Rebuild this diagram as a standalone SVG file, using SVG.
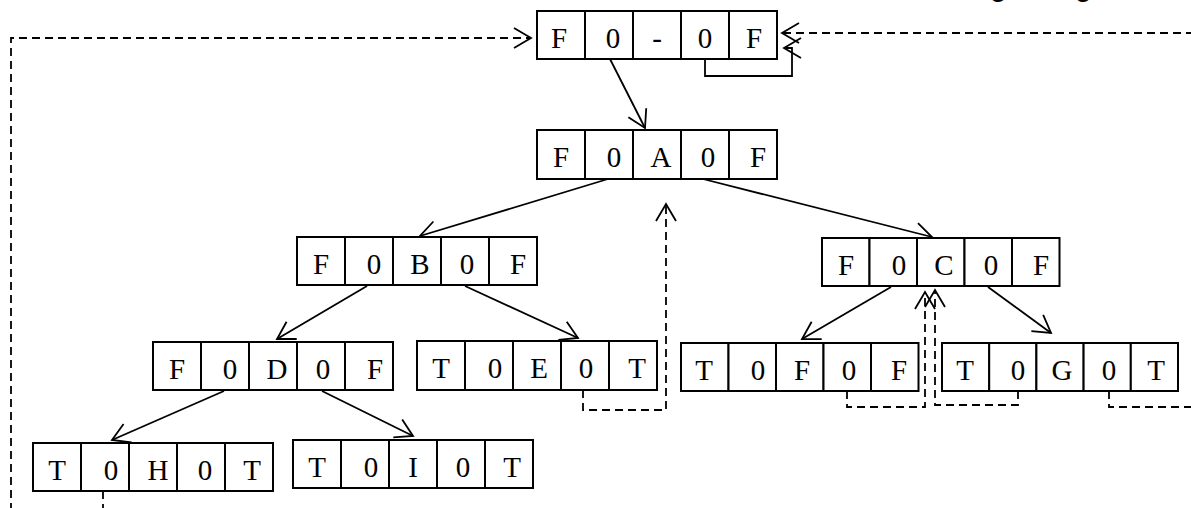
<svg xmlns="http://www.w3.org/2000/svg" width="1191" height="508" viewBox="0 0 1191 508">
<style>
.c{fill:#fff;stroke:#000;stroke-width:2}
.t{font-family:"Liberation Serif","Times New Roman",serif;font-size:29px;text-anchor:middle;fill:#000}
.g{font-family:"Liberation Sans",Arial,sans-serif;font-size:30px;fill:#000}
.s{fill:none;stroke:#000;stroke-width:1.8}
.d{fill:none;stroke:#000;stroke-width:1.8;stroke-dasharray:8 5}
</style>
<defs>
<marker id="ah" viewBox="-20 -12 24 24" refX="0" refY="0" markerWidth="24" markerHeight="24" markerUnits="userSpaceOnUse" orient="auto" overflow="visible">
<path d="M-17,-10 L0,0 L-17,10" fill="none" stroke="#000" stroke-width="1.8" stroke-dasharray="none"/>
</marker>
</defs>
<rect width="1191" height="508" fill="#fff"/>
<text class="g" x="990" y="-4">g</text>
<text class="g" x="1075" y="-4">g</text>

<g id="connectors">
<line class="s" x1="610" y1="59" x2="645" y2="128" marker-end="url(#ah)"/>
<line class="s" x1="608" y1="179" x2="420" y2="236" marker-end="url(#ah)"/>
<line class="s" x1="703" y1="179" x2="932" y2="237" marker-end="url(#ah)"/>
<line class="s" x1="367" y1="286" x2="277" y2="339" marker-end="url(#ah)"/>
<line class="s" x1="465" y1="286" x2="578" y2="338" marker-end="url(#ah)"/>
<line class="s" x1="891" y1="287" x2="802" y2="339" marker-end="url(#ah)"/>
<line class="s" x1="988" y1="287" x2="1051" y2="333" marker-end="url(#ah)"/>
<line class="s" x1="224" y1="391" x2="112" y2="440" marker-end="url(#ah)"/>
<line class="s" x1="322" y1="391" x2="413" y2="436" marker-end="url(#ah)"/>
<path class="s" d="M705 59 V76 H792 V48 L784 48" marker-end="url(#ah)"/>
<path class="d" d="M103 491 V520 H11 V38 H531" marker-end="url(#ah)"/>
<path class="d" d="M1109 391 V407 H1210 V33 H782" marker-end="url(#ah)"/>
<path class="d" d="M583 390 V410 H666 V204" marker-end="url(#ah)"/>
<path class="d" d="M847 391 V407 H925 V292" marker-end="url(#ah)"/>
<path class="d" d="M1018 391 V405 H935 V290" marker-end="url(#ah)"/>
</g>

<g id="node-root" transform="translate(537,11)">
<rect class="c" x="0" y="0" width="48" height="48"/><rect class="c" x="48" y="0" width="48" height="48"/><rect class="c" x="96" y="0" width="48" height="48"/><rect class="c" x="144" y="0" width="48" height="48"/><rect class="c" x="192" y="0" width="48" height="48"/>
<text class="t" x="22" y="37">F</text><text class="t" x="76" y="37">0</text><text class="t" x="120" y="37">-</text><text class="t" x="168" y="37">0</text><text class="t" x="217" y="37">F</text>
</g>

<g id="node-A" transform="translate(537,130)">
<rect class="c" x="0" y="0" width="48" height="49"/><rect class="c" x="48" y="0" width="48" height="49"/><rect class="c" x="96" y="0" width="48" height="49"/><rect class="c" x="144" y="0" width="48" height="49"/><rect class="c" x="192" y="0" width="48" height="49"/>
<text class="t" x="24" y="37">F</text><text class="t" x="77" y="37">0</text><text class="t" x="124" y="37">A</text><text class="t" x="171" y="37">0</text><text class="t" x="221" y="37">F</text>
</g>

<g id="node-B" transform="translate(297,237)">
<rect class="c" x="0" y="0" width="48" height="48"/><rect class="c" x="48" y="0" width="48" height="48"/><rect class="c" x="96" y="0" width="48" height="48"/><rect class="c" x="144" y="0" width="48" height="48"/><rect class="c" x="192" y="0" width="48" height="48"/>
<text class="t" x="24" y="37">F</text><text class="t" x="77" y="37">0</text><text class="t" x="123" y="37">B</text><text class="t" x="170" y="37">0</text><text class="t" x="221" y="37">F</text>
</g>

<g id="node-C" transform="translate(822,238)">
<rect class="c" x="0" y="0" width="47.5" height="48"/><rect class="c" x="47.5" y="0" width="47.5" height="48"/><rect class="c" x="95" y="0" width="47.5" height="48"/><rect class="c" x="142.5" y="0" width="47.5" height="48"/><rect class="c" x="190" y="0" width="47.5" height="48"/>
<text class="t" x="24" y="37">F</text><text class="t" x="77" y="37">0</text><text class="t" x="122" y="37">C</text><text class="t" x="169" y="37">0</text><text class="t" x="219" y="37">F</text>
</g>

<g id="node-D" transform="translate(153,342)">
<rect class="c" x="0" y="0" width="48" height="48"/><rect class="c" x="48" y="0" width="48" height="48"/><rect class="c" x="96" y="0" width="48" height="48"/><rect class="c" x="144" y="0" width="48" height="48"/><rect class="c" x="192" y="0" width="48" height="48"/>
<text class="t" x="24" y="37">F</text><text class="t" x="77" y="37">0</text><text class="t" x="124" y="37">D</text><text class="t" x="170" y="37">0</text><text class="t" x="222" y="37">F</text>
</g>

<g id="node-E" transform="translate(417,341)">
<rect class="c" x="0" y="0" width="48" height="49"/><rect class="c" x="48" y="0" width="48" height="49"/><rect class="c" x="96" y="0" width="48" height="49"/><rect class="c" x="144" y="0" width="48" height="49"/><rect class="c" x="192" y="0" width="48" height="49"/>
<text class="t" x="24" y="37">T</text><text class="t" x="78" y="37">0</text><text class="t" x="122" y="37">E</text><text class="t" x="169" y="37">0</text><text class="t" x="220" y="37">T</text>
</g>

<g id="node-F" transform="translate(681,343)">
<rect class="c" x="0" y="0" width="47.5" height="48"/><rect class="c" x="47.5" y="0" width="47.5" height="48"/><rect class="c" x="95" y="0" width="47.5" height="48"/><rect class="c" x="142.5" y="0" width="47.5" height="48"/><rect class="c" x="190" y="0" width="47.5" height="48"/>
<text class="t" x="23" y="37">T</text><text class="t" x="77" y="37">0</text><text class="t" x="121" y="37">F</text><text class="t" x="168" y="37">0</text><text class="t" x="218" y="37">F</text>
</g>

<g id="node-G" transform="translate(942,343)">
<rect class="c" x="0" y="0" width="47.2" height="48"/><rect class="c" x="47.2" y="0" width="47.2" height="48"/><rect class="c" x="94.4" y="0" width="47.2" height="48"/><rect class="c" x="141.6" y="0" width="47.2" height="48"/><rect class="c" x="188.8" y="0" width="47.2" height="48"/>
<text class="t" x="23" y="37">T</text><text class="t" x="76" y="37">0</text><text class="t" x="120" y="37">G</text><text class="t" x="167" y="37">0</text><text class="t" x="214" y="37">T</text>
</g>

<g id="node-H" transform="translate(33,443)">
<rect class="c" x="0" y="0" width="48" height="48"/><rect class="c" x="48" y="0" width="48" height="48"/><rect class="c" x="96" y="0" width="48" height="48"/><rect class="c" x="144" y="0" width="48" height="48"/><rect class="c" x="192" y="0" width="48" height="48"/>
<text class="t" x="24" y="37">T</text><text class="t" x="78" y="37">0</text><text class="t" x="125" y="37">H</text><text class="t" x="172" y="37">0</text><text class="t" x="219" y="37">T</text>
</g>

<g id="node-I" transform="translate(293,440)">
<rect class="c" x="0" y="0" width="48" height="48"/><rect class="c" x="48" y="0" width="48" height="48"/><rect class="c" x="96" y="0" width="48" height="48"/><rect class="c" x="144" y="0" width="48" height="48"/><rect class="c" x="192" y="0" width="48" height="48"/>
<text class="t" x="24" y="37">T</text><text class="t" x="78" y="37">0</text><text class="t" x="120" y="37">I</text><text class="t" x="170" y="37">0</text><text class="t" x="219" y="37">T</text>
</g>
</svg>
